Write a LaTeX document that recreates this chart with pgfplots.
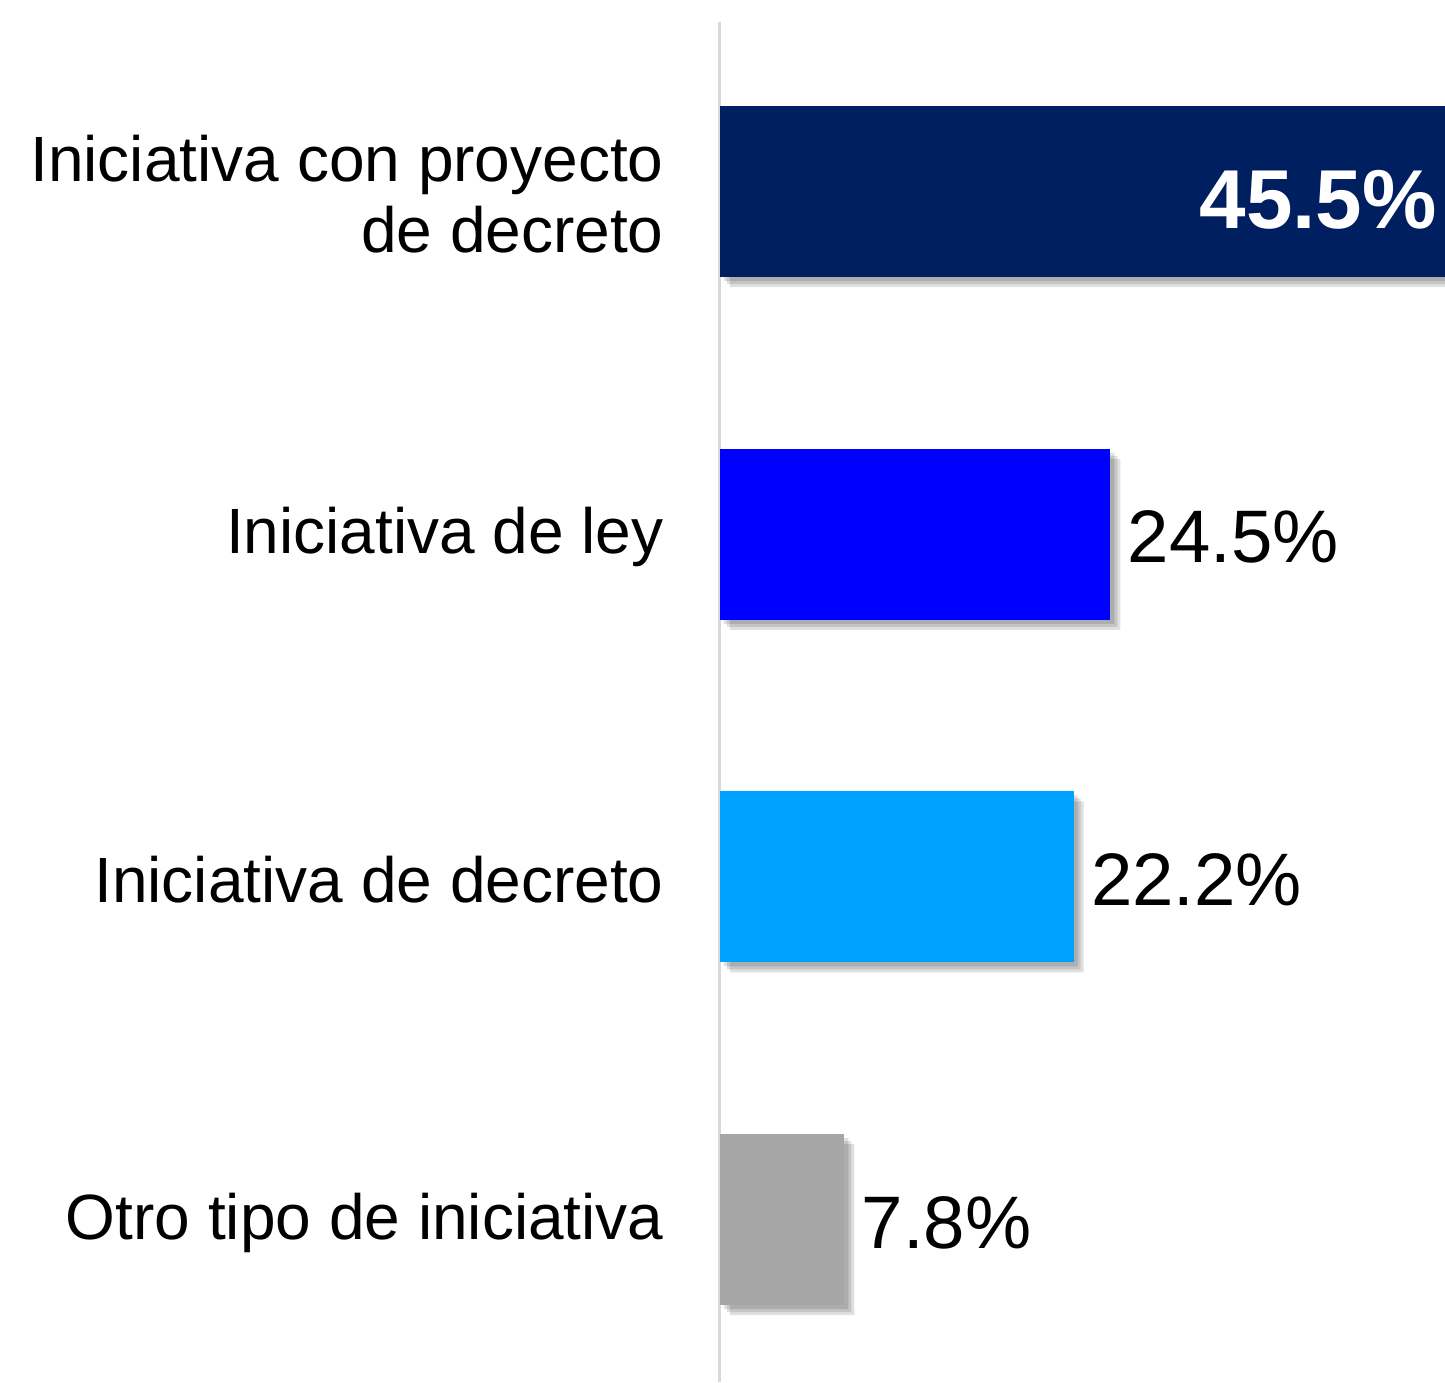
\documentclass[border=0pt]{standalone}
\usepackage{pgfplots}
\pgfplotsset{compat=1.18}
\usepackage{fontspec}
\setmainfont{Liberation Sans}

\definecolor{navybar}{RGB}{0,31,96}
\definecolor{bluebar}{RGB}{0,0,255}
\definecolor{skybar}{RGB}{0,162,255}
\definecolor{greybar}{RGB}{166,166,166}
\definecolor{axisgrey}{RGB}{217,217,217}

\pgfplotsset{
    valuelabel/.style={
        nodes near coords={\pgfmathprintnumber[fixed,precision=1,fixed zerofill]{\pgfplotspointmeta}\%},
        nodes near coords style={anchor=west, inner sep=0pt, xshift=8.5pt, yshift=-1.5pt,
            font=\fontsize{37.2}{40}\selectfont, text=black},
    },
    shadowbar/.style={fill=black, draw=none, opacity=0.12, xshift=#1, yshift=-#1},
}

\begin{document}
\begin{tikzpicture}
    \begin{axis}[
        scale only axis,
        width=362.5pt, height=680pt,
        xbar, bar width=85.5pt,
        xmin=0, xmax=45.5,
        ymin=-0.474, ymax=3.495,
        axis lines*=left,
        x axis line style={draw=none},
        y axis line style={draw=axisgrey, line width=1.5pt},
        xtick=\empty,
        ytick={0,1,2,3},
        yticklabels={{Otro tipo de iniciativa},{Iniciativa de decreto},{Iniciativa de ley},{Iniciativa con proyecto\\de decreto}},
        major tick length=0pt,
        yticklabel style={align=right, inner sep=0pt, xshift=-28pt, yshift=-1.5pt,
            font=\fontsize{32}{35.5}\selectfont},
        /pgf/number format/assume math mode=true,
        every axis plot/.append style={draw=none, bar shift=0pt},
        clip=false,
    ]
    % soft shadows
    \addplot[shadowbar=2pt] coordinates {(45.5,3) (24.5,2) (22.2,1) (7.8,0)};
    \addplot[shadowbar=3.5pt] coordinates {(45.5,3) (24.5,2) (22.2,1) (7.8,0)};
    \addplot[shadowbar=5pt] coordinates {(45.5,3) (24.5,2) (22.2,1) (7.8,0)};
    % Iniciativa con proyecto de decreto
    \addplot[fill=navybar, valuelabel, nodes near coords style={anchor=east, xshift=-12.5pt, yshift=-2.5pt,
        font=\fontsize{41.8}{45}\selectfont\bfseries, text=white}]
        coordinates {(45.5,3)};
    % Iniciativa de ley
    \addplot[fill=bluebar, valuelabel] coordinates {(24.5,2)};
    % Iniciativa de decreto
    \addplot[fill=skybar, valuelabel] coordinates {(22.2,1)};
    % Otro tipo de iniciativa
    \addplot[fill=greybar, valuelabel] coordinates {(7.8,0)};
    \end{axis}
    \pgfresetboundingbox
    \path[use as bounding box] (current axis.south west) ++(-360pt,0pt)
        rectangle ([yshift=11pt]current axis.north east);
\end{tikzpicture}
\end{document}
